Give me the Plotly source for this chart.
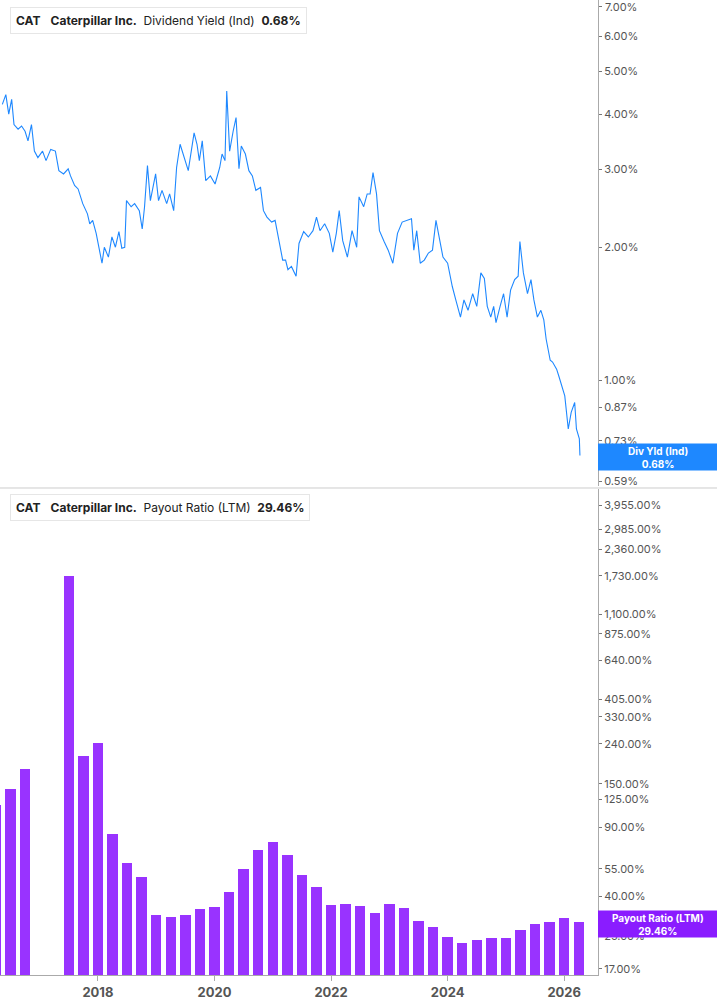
import plotly.graph_objects as go
from plotly.subplots import make_subplots
import math

# Dividend yield (%) over time (decimal years)
yld_dates = [2016.36,2016.42,2016.47,2016.52,2016.56,2016.63,2016.69,2016.75,2016.80,2016.86,2016.91,2016.97,
 2017.05,2017.11,2017.19,2017.27,2017.33,2017.41,2017.49,2017.53,2017.60,2017.66,2017.74,2017.82,2017.86,2017.91,2017.97,
 2018.02,2018.07,2018.11,2018.18,2018.24,2018.30,2018.36,2018.41,2018.46,2018.49,2018.57,2018.63,2018.71,2018.76,2018.80,
 2018.85,2018.90,2018.94,2018.99,2019.04,2019.10,2019.18,2019.23,2019.30,2019.35,2019.41,2019.49,2019.55,2019.65,2019.70,
 2019.74,2019.79,2019.85,2019.93,2020.01,2020.09,2020.13,2020.18,2020.21,2020.26,2020.32,2020.37,2020.42,2020.46,2020.53,
 2020.59,2020.65,2020.71,2020.79,2020.84,2020.90,2020.98,2021.04,2021.11,2021.17,2021.22,2021.26,2021.32,2021.37,2021.40,
 2021.45,2021.53,2021.61,2021.69,2021.75,2021.81,2021.89,2021.97,2022.03,2022.09,2022.14,2022.20,2022.28,2022.36,2022.44,
 2022.48,2022.56,2022.62,2022.67,2022.72,2022.78,2022.83,2022.91,2022.98,2023.06,2023.14,2023.22,2023.30,2023.38,2023.42,
 2023.47,2023.53,2023.60,2023.67,2023.74,2023.80,2023.86,2023.92,2024.00,2024.08,2024.14,2024.22,2024.28,2024.35,2024.43,
 2024.50,2024.57,2024.63,2024.68,2024.74,2024.79,2024.83,2024.90,2024.96,2025.02,2025.08,2025.15,2025.21,2025.24,2025.30,
 2025.37,2025.43,2025.48,2025.54,2025.60,2025.65,2025.69,2025.76,2025.80,2025.87,2025.91,2025.96,2026.01,2026.07,2026.12,
 2026.18,2026.21,2026.26,2026.27]
yld_vals = [4.21,4.43,4.00,4.32,3.79,3.70,3.76,3.66,3.48,3.79,3.30,3.19,
 3.30,3.14,3.33,3.30,2.98,2.93,3.01,2.90,2.76,2.71,2.51,2.38,2.26,2.30,2.15,
 1.97,1.84,2.00,1.90,2.11,2.00,2.17,1.99,2.00,2.55,2.47,2.51,2.42,2.20,2.47,
 3.06,2.55,2.73,2.93,2.55,2.69,2.51,2.64,2.42,3.03,3.42,3.14,2.98,3.63,3.42,
 3.14,3.48,2.83,2.90,2.78,3.03,3.25,3.14,4.51,3.30,3.66,3.93,3.01,3.39,3.25,
 2.98,2.90,2.69,2.73,2.42,2.34,2.28,2.30,2.07,1.87,1.87,1.78,1.81,1.75,1.72,
 2.04,2.17,2.11,2.18,2.34,2.18,2.26,2.15,1.95,2.15,2.42,2.07,1.90,2.18,2.00,
 2.60,2.47,2.64,2.64,2.95,2.64,2.18,2.06,1.97,1.84,2.15,2.28,2.30,2.32,1.97,
 2.18,1.84,1.87,1.94,1.97,2.30,2.07,1.90,1.84,1.63,1.52,1.39,1.52,1.44,1.57,
 1.47,1.75,1.70,1.47,1.39,1.47,1.35,1.47,1.57,1.39,1.60,1.69,1.72,2.06,1.75,
 1.57,1.69,1.52,1.39,1.44,1.37,1.24,1.11,1.10,1.06,1.02,0.971,0.922,0.776,0.846,
 0.891,0.776,0.737,0.676]

# Payout ratio (LTM, %) quarterly
po_dates = [2016.25,2016.5,2016.75,2017.5,2017.75,2018.0,2018.25,2018.5,2018.75,2019.0,2019.25,2019.5,2019.75,
 2020.0,2020.25,2020.5,2020.75,2021.0,2021.25,2021.5,2021.75,2022.0,2022.25,2022.5,2022.75,2023.0,2023.25,
 2023.5,2023.75,2024.0,2024.25,2024.5,2024.75,2025.0,2025.25,2025.5,2025.75,2026.0,2026.25]
po_vals = [116,141,178,1712,206,242,82.6,58.9,50,31.9,31.1,31.9,34.1,
 34.9,41.5,54.7,68,74.8,64.7,50.8,44.4,35.7,36.3,35.4,32.7,36.2,34.5,
 29.6,27.6,24.7,22.9,23.6,24.4,24.3,26.8,28.5,29.2,30.9,29.46]

top_ticks = [7,6,5,4,3,2,1,0.87,0.73,0.59]
bot_ticks = [3955,2985,2360,1730,1100,875,640,405,330,240,150,125,90,55,40,25,17]
year_ticks = [2018,2020,2022,2024,2026]

BLUE = "#1e88ff"; PURP = "#9933ff"; GREY = "#555555"
FONT = "Inter"

fig = make_subplots(rows=2, cols=1, shared_xaxes=True, vertical_spacing=0.004)
fig.add_trace(go.Scatter(x=yld_dates, y=yld_vals, mode="lines", line=dict(color=BLUE, width=1.1)), 1, 1)
fig.add_trace(go.Bar(x=po_dates, y=po_vals, width=0.18, marker=dict(color=PURP, line=dict(width=0))), 2, 1)

xr = [2016.32, 2026.58]
fig.update_xaxes(range=xr, showgrid=False, zeroline=False)
fig.update_xaxes(row=1, col=1, showticklabels=False, showline=False, ticks="")
fig.update_xaxes(row=2, col=1, tickvals=year_ticks, ticktext=[str(y) for y in year_ticks],
                 showline=True, linecolor="#aaaaaa", ticks="outside", ticklen=5, tickcolor="#aaaaaa",
                 tickfont=dict(family=FONT, size=13, color=GREY, weight="bold"))
common_y = dict(type="log", side="right", showgrid=False, zeroline=False, showline=True, linecolor="#aaaaaa",
                ticks="outside", ticklen=3, tickcolor="#777777", tickfont=dict(family=FONT, size=11, color=GREY))
fig.update_yaxes(row=1, col=1, range=[math.log10(0.578), math.log10(7.25)], tickvals=top_ticks,
                 ticktext=[f"{v:.2f}%" for v in top_ticks], **common_y)
fig.update_yaxes(row=2, col=1, range=[math.log10(15.8), math.log10(4780)], tickvals=bot_ticks,
                 ticktext=[f"{v:,.2f}%" for v in bot_ticks], **common_y)

fig.update_layout(width=717, height=1005, margin=dict(l=0, r=119, t=0, b=30), showlegend=False,
                  plot_bgcolor="white", paper_bgcolor="white", bargap=0)

# top tick label that plotly hides at the edge
fig.add_annotation(xref="paper", yref="y", x=1.0, xshift=5, y=math.log10(top_ticks[0]), xanchor="left",
                   yanchor="middle", text=f"{top_ticks[0]:.2f}%", showarrow=False,
                   font=dict(family=FONT, size=11, color=GREY))

fig.add_shape(type="line", xref="paper", yref="paper", x0=0, x1=1.2, y0=0.4995, y1=0.4995,
              line=dict(color="#cccccc", width=1))

def legend_box(ypx, color, label, val):
    fig.add_annotation(xref="paper", yref="paper", x=10/598, y=1-ypx/975, xanchor="left", yanchor="middle",
                       text=f"<b>CAT</b>   <b>Caterpillar Inc.</b>  {label}  <b>{val}</b>",
                       showarrow=False, font=dict(family=FONT, size=12, color="#222222"),
                       bgcolor="white", bordercolor="#e6e6e6", borderwidth=1, borderpad=5)
    fig.add_shape(type="rect", xref="paper", yref="paper", x0=10/598, x1=13/598,
                  y0=1-(ypx+12)/975, y1=1-(ypx-12)/975, fillcolor=color, line=dict(width=0))

legend_box(20, BLUE, "Dividend Yield (Ind)", "0.68%")
legend_box(508, "#8a1cff", "Payout Ratio (LTM)", "29.46%")

def badge(ypx, color, text):
    fig.add_shape(type="rect", xref="paper", yref="paper", x0=1.0, x1=717/598,
                  y0=1-(ypx+13.5)/975, y1=1-(ypx-13.5)/975, fillcolor=color, line=dict(width=0))
    fig.add_annotation(xref="paper", yref="paper", x=(598+717)/2/598, y=1-ypx/975, xanchor="center",
                       yanchor="middle", text=text, showarrow=False,
                       font=dict(family=FONT, size=10, color="white", weight="bold"))

badge(457, BLUE, "Div Yld (Ind)<br>0.68%")
badge(924, "#8a1cff", "Payout Ratio (LTM)<br>29.46%")

fig.write_html("out.html", config={"displayModeBar": False})
with open("out.html", encoding="utf-8") as f:
    html = f.read()
html = html.replace("<head>", "<head><style>html,body{margin:0;padding:0;overflow:hidden}</style>", 1)
with open("out.html", "w", encoding="utf-8") as f:
    f.write(html)
